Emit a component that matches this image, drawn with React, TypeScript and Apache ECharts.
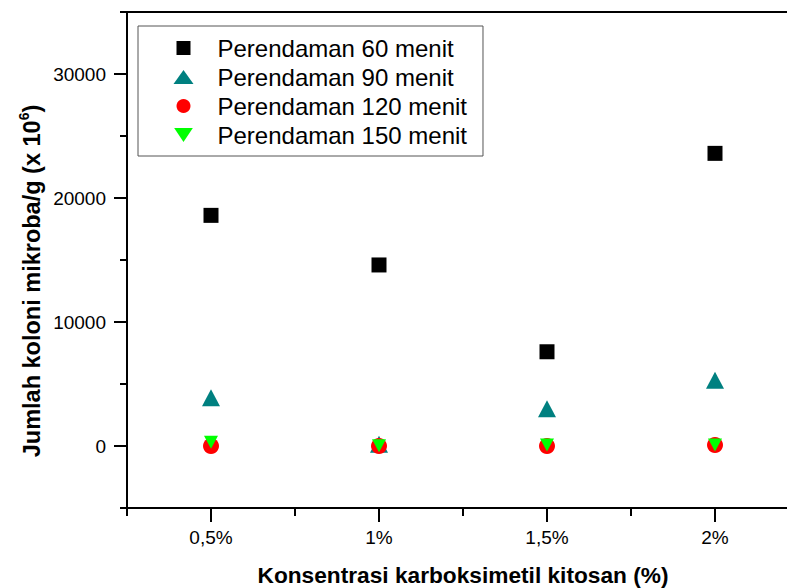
import React, { useEffect, useRef } from "react";
import * as echarts from "echarts";

const categories = ["0,5%", "1%", "1,5%", "2%"];
const seriesNames = [
  "Perendaman 60 menit",
  "Perendaman 90 menit",
  "Perendaman 120 menit",
  "Perendaman 150 menit",
];
const values60 = [18600, 14600, 7600, 23600];
const values90 = [3900, 150, 3000, 5300];
const values120 = [0, 0, 0, 80];
const values150 = [300, 20, 80, 80];
const yTickLabels = [0, 10000, 20000, 30000];

const FONT = "'Liberation Sans', Arial, sans-serif";

export default function App() {
  const ref = useRef<HTMLDivElement>(null);
  useEffect(() => {
    if (!ref.current) return;
    const chart = echarts.init(ref.current, null, { renderer: "svg" });
    const toData = (vals: number[]) => vals.map((v, i) => [i + 1, v]);
    const xSlots: string[] = [];
    for (let i = 0; i <= categories.length * 2; i++) xSlots.push("s" + i);
    const ySlots: string[] = [];
    for (let v = -5000; v <= 35000; v += 5000) ySlots.push("y" + v);

    chart.setOption({
      animation: false,
      backgroundColor: "#ffffff",
      textStyle: { fontFamily: FONT },
      grid: {
        left: 127,
        right: -12,
        top: 12,
        bottom: 80,
        outerBoundsMode: "none",
        containLabel: false,
      },
      legend: {
        orient: "vertical",
        left: 138,
        top: 26,
        padding: [10, 16, 9, 35.5],
        borderColor: "#555",
        borderWidth: 1,
        itemWidth: 21,
        itemHeight: 14,
        itemGap: 5,
        symbolRotate: 0,
        symbolKeepAspect: true,
        textStyle: {
          fontSize: 24,
          color: "#000",
          fontFamily: FONT,
          lineHeight: 24,
          padding: [0, 0, 0, 18.5],
        },
        data: [
          { name: seriesNames[0], icon: "path://M0,0H13V13H0Z" },
          { name: seriesNames[1], icon: "path://M10,0L20,14H0Z" },
          { name: seriesNames[2], icon: "circle" },
          { name: seriesNames[3], icon: "path://M0,0H16L8,12Z" },
        ],
      },
      xAxis: [
        {
          type: "value",
          min: 0.5,
          max: 0.5 + categories.length,
          interval: 0.5,
          position: "bottom",
          name: "Konsentrasi karboksimetil kitosan (%)",
          nameLocation: "middle",
          nameGap: 55,
          nameTextStyle: { fontSize: 22.7, fontWeight: "bold", color: "#000", fontFamily: FONT },
          axisLine: { show: true, onZero: false, lineStyle: { color: "#000", width: 2 } },
          axisTick: { show: true, inside: false, length: 8, lineStyle: { color: "#000", width: 2 } },
          axisLabel: {
            fontSize: 19,
            color: "#000",
            margin: 20,
            fontFamily: FONT,
            formatter: (v: number) => {
              const idx = Math.round(v) - 1;
              return Math.abs(v - Math.round(v)) < 1e-6 && idx >= 0 && idx < categories.length
                ? categories[idx]
                : "";
            },
          },
          splitLine: { show: false },
        },
        {
          type: "category",
          boundaryGap: false,
          data: xSlots,
          position: "bottom",
          axisLine: { show: false, onZero: false },
          axisTick: {
            show: true,
            length: 14,
            interval: (i: number) => i % 2 === 1,
            lineStyle: { color: "#000", width: 2 },
          },
          axisLabel: { show: false },
          splitLine: { show: false },
        },
        {
          type: "value",
          min: 0.5,
          max: 0.5 + categories.length,
          position: "top",
          axisLine: { show: true, onZero: false, lineStyle: { color: "#000", width: 2 } },
          axisTick: { show: false },
          axisLabel: { show: false },
          splitLine: { show: false },
        },
      ],
      yAxis: [
        {
          type: "value",
          min: -5000,
          max: 35000,
          interval: 5000,
          position: "left",
          axisLine: { show: true, onZero: false, lineStyle: { color: "#000", width: 2 } },
          axisTick: { show: true, length: 7, lineStyle: { color: "#000", width: 2 } },
          axisLabel: {
            fontSize: 19,
            color: "#000",
            margin: 21,
            fontFamily: FONT,
            formatter: (v: number) => (yTickLabels.indexOf(v) >= 0 ? String(v) : ""),
          },
          splitLine: { show: false },
        },
        {
          type: "category",
          boundaryGap: false,
          data: ySlots,
          position: "left",
          axisLine: { show: false, onZero: false },
          axisTick: {
            show: true,
            length: 13,
            interval: (i: number) => i % 2 === 1,
            lineStyle: { color: "#000", width: 2 },
          },
          axisLabel: { show: false },
          splitLine: { show: false },
        },
      ],
      graphic: [
        {
          type: "text",
          x: 32,
          y: 281,
          rotation: Math.PI / 2,
          style: {
            text: "{t|Jumlah koloni mikroba/g (x 10}{s|6}{t|)}",
            align: "center",
            verticalAlign: "middle",
            fill: "#000",
            rich: {
              t: { fontSize: 23.5, fontWeight: "bold", fontFamily: FONT, lineHeight: 30, fill: "#000" },
              s: {
                fontSize: 14,
                fontWeight: "bold",
                fontFamily: FONT,
                lineHeight: 16,
                verticalAlign: "top",
                fill: "#000",
              },
            },
          },
        },
      ],
      series: [
        {
          name: seriesNames[0],
          type: "scatter",
          xAxisIndex: 0,
          yAxisIndex: 0,
          symbol: "rect",
          symbolSize: 15,
          itemStyle: { color: "#000000", opacity: 1 },
          data: toData(values60),
        },
        {
          name: seriesNames[1],
          type: "scatter",
          xAxisIndex: 0,
          yAxisIndex: 0,
          symbol: "triangle",
          symbolSize: [18, 17],
          itemStyle: { color: "#008080", opacity: 1 },
          data: toData(values90),
        },
        {
          name: seriesNames[2],
          type: "scatter",
          xAxisIndex: 0,
          yAxisIndex: 0,
          symbol: "circle",
          symbolSize: 16,
          itemStyle: { color: "#ff0000", opacity: 1 },
          data: toData(values120),
        },
        {
          name: seriesNames[3],
          type: "scatter",
          xAxisIndex: 0,
          yAxisIndex: 0,
          symbol: "triangle",
          symbolRotate: 180,
          symbolSize: [14, 13],
          itemStyle: { color: "#00ff00", opacity: 1 },
          data: toData(values150),
        },
      ],
    });
    return () => chart.dispose();
  }, []);
  return (
    <div
      ref={ref}
      style={{ position: "fixed", left: 0, top: 0, width: 787, height: 588, background: "#fff" }}
    />
  );
}
